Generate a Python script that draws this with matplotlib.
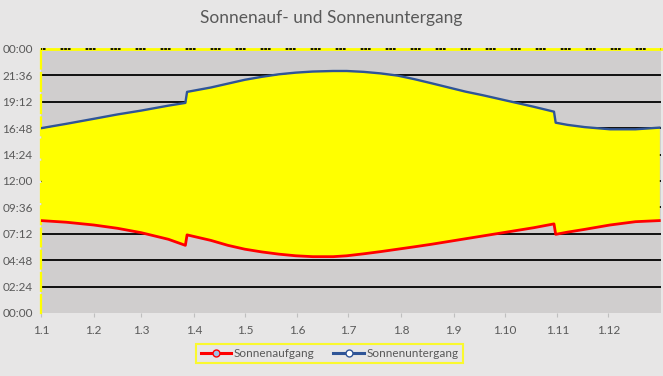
import matplotlib
matplotlib.use("Agg")
import matplotlib.pyplot as plt
from matplotlib.lines import Line2D

plt.rcParams['font.family'] = ['Lato', 'DejaVu Sans']

# day of year and times (hours)
days = [0, 15, 31, 45, 59, 75, 85, 86, 100, 110, 120, 130, 140, 150, 160,
        172, 180, 190, 200, 210, 220, 230, 240, 250, 260, 270, 280, 290, 302,
        303, 310, 320, 335, 350, 364]
sunrise = [8.4, 8.25, 8.0, 7.7, 7.3, 6.7, 6.15, 7.1, 6.6, 6.15, 5.8, 5.55,
           5.35, 5.2, 5.12, 5.12, 5.2, 5.38, 5.58, 5.8, 6.02, 6.25, 6.5, 6.75,
           7.0, 7.25, 7.5, 7.75, 8.1, 7.15, 7.35, 7.6, 8.0, 8.3, 8.4]
sunset = [16.8, 17.2, 17.65, 18.05, 18.4, 18.85, 19.1, 20.1, 20.5, 20.85,
          21.2, 21.47, 21.7, 21.85, 21.95, 22.0, 22.0, 21.92, 21.78, 21.58,
          21.25, 20.88, 20.5, 20.12, 19.8, 19.45, 19.1, 18.75, 18.3, 17.3,
          17.1, 16.9, 16.7, 16.7, 16.85]

month_days = [0, 31, 59, 90, 120, 151, 181, 212, 243, 273, 304, 334]
month_labels = ['1.1', '1.2', '1.3', '1.4', '1.5', '1.6', '1.7', '1.8',
                '1.9', '1.10', '1.11', '1.12']
hour_ticks = [0, 2.4, 4.8, 7.2, 9.6, 12, 14.4, 16.8, 19.2, 21.6, 24]
hour_labels = ['00:00', '02:24', '04:48', '07:12', '09:36', '12:00',
               '14:24', '16:48', '19:12', '21:36', '00:00']

bg = '#e7e6e6'
txt = '#595959'

fig = plt.figure(figsize=(6.63, 3.76), dpi=100, facecolor=bg)
ax = fig.add_axes([0.0618, 0.1676, 0.9352, 0.7021])
ax.set_facecolor('#d0cece')

for h in hour_ticks[1:-1]:
    ax.axhline(h, color='black', lw=1.3, zorder=1)

ax.fill_between(days, sunrise, sunset, color='#ffff00', lw=0, zorder=2)
ax.plot(days, sunrise, color='#ff0000', lw=2.0, zorder=3)
ax.plot(days, sunset, color='#2f5597', lw=1.7, zorder=3)

# top border: yellow with black dash groups
ax.axhline(24, color='#ffff00', lw=2.0, zorder=4, clip_on=False)
ax.axhline(24, color='black', lw=1.3, zorder=5, clip_on=False,
           linestyle=(3, (1.5, 0.5, 1.5, 0.5, 1.5, 8.35)))

ax.set_xlim(0, 365)
ax.set_ylim(0, 24)
ax.set_xticks(month_days)
ax.set_xticklabels(month_labels)
ax.set_yticks(hour_ticks)
ax.set_yticklabels(hour_labels)
ax.tick_params(axis='x', colors='#bfbfbf', labelcolor=txt, labelsize=8.5,
               length=3, pad=6)
ax.tick_params(axis='y', length=0, labelcolor=txt, labelsize=8.5, pad=6)

for s in ['top', 'right', 'bottom']:
    ax.spines[s].set_visible(False)
ax.spines['left'].set_color('#ffff00')
ax.spines['left'].set_linewidth(1.6)
ax.spines['left'].set_linestyle((0, (8, 2)))

fig.text(0.5, 0.952, 'Sonnenauf- und Sonnenuntergang', ha='center',
         va='center', fontsize=12.5, color=txt)

handles = [
    Line2D([], [], color='#ff0000', lw=2.2, marker='o', markersize=5,
           markerfacecolor='#9dc3e6', markeredgecolor='#ff0000'),
    Line2D([], [], color='#2f5597', lw=2.2, marker='o', markersize=5,
           markerfacecolor='white', markeredgecolor='#2f5597'),
]
leg = fig.legend(handles, ['Sonnenaufgang', 'Sonnenuntergang'], ncol=2,
                 loc='center', bbox_to_anchor=(0.497, 0.06), frameon=True,
                 fancybox=False, fontsize=8.5, handlelength=2.6,
                 handletextpad=0.2, columnspacing=1.6, borderpad=0.35)
leg.get_frame().set_facecolor(bg)
leg.get_frame().set_edgecolor('#ffff00')
leg.get_frame().set_linewidth(1.5)
for t in leg.get_texts():
    t.set_color(txt)

fig.savefig('out.png', dpi=100, facecolor=bg)
